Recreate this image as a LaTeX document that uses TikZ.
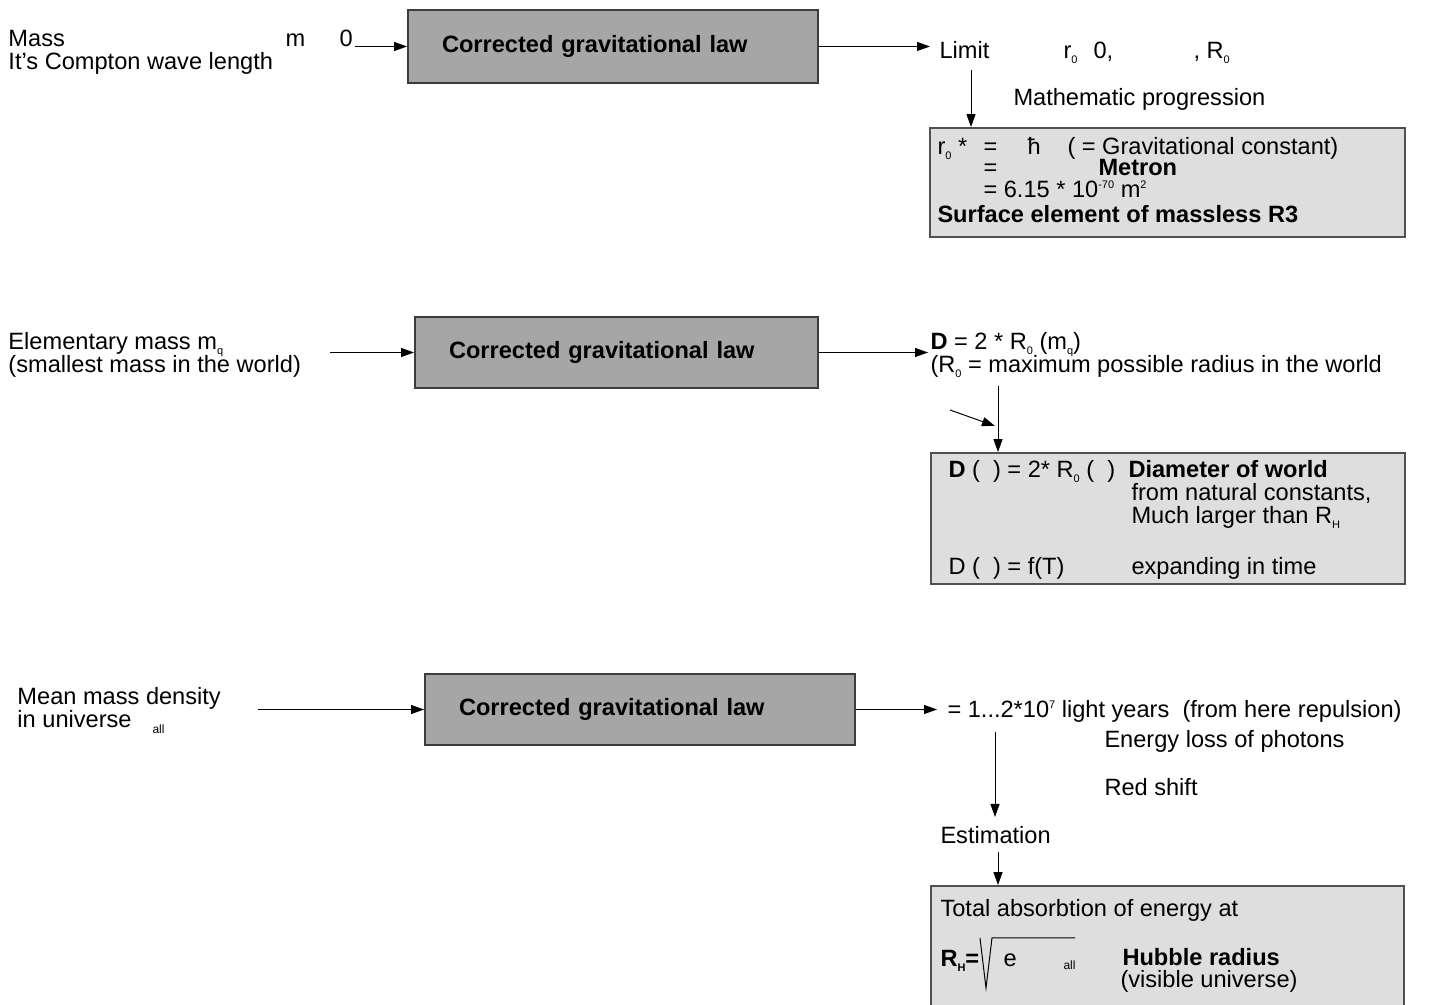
\documentclass[tikz,border=0pt]{standalone}
\usepackage{fontspec}
\setmainfont{Liberation Sans}
\usetikzlibrary{arrows.meta}

\definecolor{lawfill}{HTML}{A6A6A6}
\definecolor{lawline}{HTML}{3C3C3C}
\definecolor{notefill}{HTML}{DEDEDE}
\definecolor{noteline}{HTML}{505050}

\newcommand{\basefont}{\fontsize{11.8}{13}\selectfont}
\newcommand{\lowix}[1]{\raisebox{-0.35ex}{\fontsize{5.5}{6}\selectfont #1}}
\newcommand{\upix}[1]{\raisebox{0.8ex}{\fontsize{5.5}{6}\selectfont #1}}
\newcommand{\tinyix}[1]{{\fontsize{6}{7}\selectfont #1}}

\tikzset{
  txt/.style={anchor=base west, inner sep=0pt},
  boldtxt/.style={txt, font=\basefont\bfseries},
  lawbox/.style={draw=lawline, fill=lawfill, line width=1pt, minimum height=#1,
    align=left, inner xsep=17pt, font=\basefont\bfseries},
  notebox/.style={draw=noteline, fill=notefill, line width=0.9pt, inner sep=0pt},
}

\begin{document}
\begin{tikzpicture}[x=0.5pt, y=-0.5pt, >={Triangle[length=6.5pt,width=4.5pt]},
    font=\basefont, line width=0.5pt]
    \useasboundingbox (0,0) rectangle (1432,1005);

    % first row: compton wave length
    \node[txt] (mass) at (8,47) {Mass};
    \node[txt] (compton) at (8,70) {It’s Compton wave length};
    \node[txt] (mlim) at (285,47) {m};
    \node[txt] (mzero) at (339,47) {0};
    \coordinate (massin) at (355,46.5);
    \node[lawbox=36.5pt, text width=171pt] (law1) at (613,46.5) {Corrected gravitational law};
    \coordinate (limitin) at (930,46.5);
    \draw[->] (massin) -- (law1);
    \draw[->] (law1) -- (limitin);
    \node[txt] (limit) at (939,59) {Limit};
    \node[txt] (rlim) at (1063,59) {r\lowix{0}};
    \node[txt] (rzero) at (1093,59) {0,};
    \node[txt] (rbig) at (1193,59) {, R\lowix{0}};
    \node[txt] (progr) at (1013,106) {Mathematic progression};
    \node[notebox, minimum width=237.5pt, minimum height=54.5pt] (metron) at (1167.5,182.5) {};
    \coordinate (limitout) at (971,70);
    \draw[->] (limitout) -- (limitout |- metron.north);
    \node[txt] (rstar) at (937,155) {r\lowix{0} *};
    \node[txt] (eqa) at (983,155) {=};
    \node[txt] (hbar) at (1027,155) {ħ};
    \node[txt] (gconst) at (1067,155) {( = Gravitational constant)};
    \node[txt] (eqb) at (983,176) {=};
    \node[boldtxt] (metname) at (1098,176) {Metron};
    \node[txt] (metval) at (983,198) {= 6.15 * 10\upix{-70} m\upix{2}};
    \node[boldtxt] (surface) at (937,223) {Surface element of massless R3};

    % second row: elementary mass
    \node[txt] (elem) at (8,350) {Elementary mass m\lowix{q}};
    \node[txt] (small) at (8,373) {(smallest mass in the world)};
    \coordinate (elemin) at (330,352.5);
    \node[lawbox=35.5pt, text width=167.5pt] (law2) at (616.5,352.5) {Corrected gravitational law};
    \coordinate (diamin) at (928,352.5);
    \draw[->] (elemin) -- (law2);
    \draw[->] (law2) -- (diamin);
    \node[txt] (diam) at (930,350) {\textbf{D} = 2 * R\lowix{0} (m\lowix{q})};
    \node[txt] (rmax) at (930,373) {(R\lowix{0} = maximum possible radius in the world};
    \node[notebox, minimum width=237pt, minimum height=65.5pt] (world) at (1168,518.5) {};
    \coordinate (rmaxout) at (998,386);
    \coordinate (sidein) at (950,410);
    \coordinate (sidetip) at (995,426);
    \draw[->] (rmaxout) -- (rmaxout |- world.north);
    \draw[->] (sidein) -- (sidetip);
    \node[txt] (dworld) at (948,478) {\textbf{D} (\ \ ) = 2* R\lowix{0} (\ \ )};
    \node[boldtxt] (dname) at (1128,478) {Diameter of world};
    \node[txt] (natural) at (1131,501) {from natural constants,};
    \node[txt] (larger) at (1131,524) {Much larger than R\lowix{H}};
    \node[txt] (dtime) at (948,575) {D (\ \ ) = f(T)};
    \node[txt] (expand) at (1131,575) {expanding in time};

    % third row: mean mass density
    \node[txt] (density) at (17,705) {Mean mass density};
    \node[txt] (univ) at (17,728) {in universe};
    \node[txt] (allin) at (152,734) {\tinyix{all}};
    \coordinate (densin) at (258,709.5);
    \node[lawbox=35.5pt, text width=181pt] (law3) at (640,709.5) {Corrected gravitational law};
    \coordinate (repin) at (937,709.5);
    \draw[->] (densin) -- (law3);
    \draw[->] (law3) -- (repin);
    \node[txt] (repul) at (947,718) {= 1...2*10\upix{7} light years\ \ (from here repulsion)};
    \node[txt] (photon) at (1104,748) {Energy loss of photons};
    \node[txt] (redsh) at (1104,796) {Red shift};
    \node[txt] (estim) at (940,844) {Estimation};
    \coordinate (repout) at (995,732);
    \draw[->] (repout) -- (995,817);
    \node[notebox, minimum width=236.5pt, minimum height=62pt] (hubble) at (1167.5,948) {};
    \coordinate (estout) at (998,852);
    \draw[->] (estout) -- (estout |- hubble.north);
    \node[txt] (absorb) at (940,917) {Total absorbtion of energy at};
    \node[boldtxt] (rh) at (940,967) {R\lowix{H}=};
    \draw[line width=0.5pt] (980,938) -- (986,988) -- (992,938) -- (1075,938);
    \node[txt] (esym) at (1003,967) {e};
    \node[txt] (allroot) at (1063,970) {\tinyix{all}};
    \node[boldtxt] (hname) at (1122,965) {Hubble radius};
    \node[txt] (visible) at (1120,987) {(visible universe)};
\end{tikzpicture}
\end{document}
